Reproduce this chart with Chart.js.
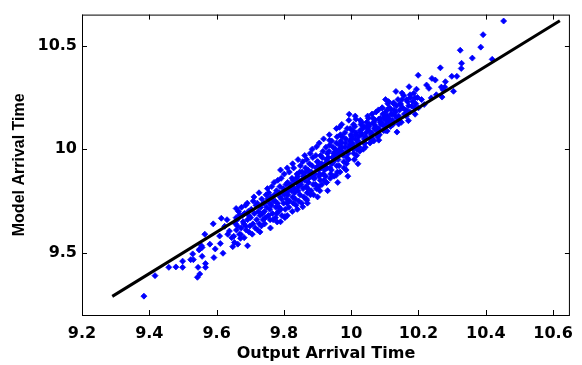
<!DOCTYPE html>
<html>
<head>
<meta charset="utf-8">
<script src="https://cdn.jsdelivr.net/npm/chart.js@4"></script>
<style>
  body { margin: 0; background: #fff; }
  canvas { display: block; }
</style>
</head>
<body>
<canvas id="chart" width="582" height="365"></canvas>
<script>
// tick labels
const xTicks = [9.2, 9.4, 9.6, 9.8, 10, 10.2, 10.4, 10.6];
const yTicks = [9.5, 10, 10.5];

// reference line y = x
const lineX = [9.29, 10.62];
const lineY = [9.29, 10.62];

// output arrival time (x) of each sample
const outputTime = [
  9.384, 9.417, 9.458, 9.479, 9.499, 9.499, 9.523, 9.531, 9.529, 9.543, 9.550, 9.545, 9.557, 9.567, 9.565, 9.590, 9.592, 9.550, 9.555, 9.580, 9.611, 9.614, 9.624, 9.648, 9.633,
  9.567, 9.557, 9.596, 9.609, 9.619, 9.631, 9.638, 9.645, 9.663, 9.672, 9.658, 9.668, 9.687, 9.682, 9.548,
  9.651, 9.656, 9.659, 9.653, 9.658,
  9.662, 9.668, 9.665, 9.661,
  9.673, 9.676, 9.671, 9.679, 9.674,
  9.683, 9.688, 9.681, 9.686,
  9.692, 9.697, 9.694, 9.699, 9.691, 9.696,
  9.703, 9.708, 9.701, 9.706, 9.709,
  9.712, 9.717, 9.715, 9.719, 9.711,
  9.724, 9.727, 9.721, 9.729, 9.722, 9.726,
  9.731, 9.738, 9.734, 9.736, 9.733, 9.739,
  9.742, 9.747, 9.745, 9.741, 9.749, 9.743,
  9.752, 9.758, 9.754, 9.751, 9.757, 9.759, 9.755,
  9.763, 9.766, 9.761, 9.769, 9.764, 9.768,
  9.772, 9.776, 9.774, 9.779, 9.771, 9.778, 9.775,
  9.781, 9.787, 9.784, 9.789, 9.782, 9.786, 9.788,
  9.793, 9.798, 9.791, 9.796, 9.794, 9.799, 9.792,
  9.802, 9.806, 9.809, 9.804, 9.801, 9.807, 9.803, 9.808,
  9.813, 9.817, 9.811, 9.815, 9.819, 9.812, 9.816,
  9.821, 9.826, 9.824, 9.828, 9.822, 9.829, 9.825, 9.827,
  9.832, 9.837, 9.834, 9.839, 9.831, 9.836, 9.838,
  9.843, 9.848, 9.841, 9.846, 9.844, 9.849, 9.842, 9.847,
  9.852, 9.857, 9.854, 9.859, 9.851, 9.856, 9.853, 9.858,
  9.861, 9.866, 9.864, 9.869, 9.862, 9.867, 9.865, 9.868,
  9.873, 9.878, 9.871, 9.876, 9.874, 9.879, 9.872,
  9.882, 9.887, 9.884, 9.889, 9.881, 9.886, 9.883, 9.888,
  9.891, 9.896, 9.894, 9.899, 9.892, 9.897, 9.895,
  9.903, 9.908, 9.901, 9.906, 9.904, 9.909, 9.902, 9.907, 9.905,
  9.912, 9.917, 9.914, 9.919, 9.911, 9.916, 9.913,
  9.921, 9.926, 9.924, 9.929, 9.922, 9.927, 9.925, 9.928,
  9.932, 9.937, 9.934, 9.939, 9.931, 9.936, 9.938,
  9.943, 9.948, 9.941, 9.946, 9.944, 9.949, 9.942, 9.947,
  9.952, 9.957, 9.954, 9.959, 9.951, 9.956, 9.953, 9.958,
  9.961, 9.966, 9.964, 9.969, 9.962, 9.967, 9.965, 9.968,
  9.973, 9.978, 9.971, 9.976, 9.974, 9.979, 9.972,
  9.982, 9.987, 9.984, 9.989, 9.981, 9.986, 9.983, 9.988,
  9.991, 9.996, 9.994, 9.999, 9.992, 9.997, 9.995,
  10.003, 10.008, 10.001, 10.006, 10.004, 10.009, 10.002, 10.007, 10.005,
  10.012, 10.017, 10.014, 10.019, 10.011, 10.016, 10.013,
  10.021, 10.026, 10.024, 10.029, 10.022, 10.027, 10.025, 10.028,
  10.032, 10.037, 10.034, 10.039, 10.031, 10.036, 10.038,
  10.043, 10.048, 10.041, 10.046, 10.044, 10.049, 10.042, 10.047,
  10.052, 10.057, 10.054, 10.059, 10.051, 10.056, 10.053,
  10.061, 10.066, 10.064, 10.069, 10.062, 10.067, 10.065, 10.068,
  10.073, 10.078, 10.071, 10.076, 10.074, 10.079,
  10.082, 10.087, 10.084, 10.089, 10.081, 10.086,
  10.091, 10.096, 10.094, 10.099, 10.092, 10.097,
  10.103, 10.108, 10.101, 10.106, 10.104, 10.109, 10.102,
  10.112, 10.117, 10.114, 10.119, 10.111,
  10.123, 10.128, 10.121, 10.126, 10.124,
  10.132, 10.137, 10.134, 10.139,
  10.141, 10.146, 10.144, 10.149,
  10.153, 10.158, 10.151, 10.156,
  10.162, 10.167, 10.164,
  10.171, 10.176, 10.174,
  10.183, 10.188, 10.186,
  10.192, 10.197, 10.194,
  9.862, 9.884, 9.905, 9.918, 9.935, 9.878, 9.956, 9.972, 9.993, 10.012, 9.842, 9.826, 9.810, 9.790,
  9.840, 9.870, 9.900, 9.930, 9.960, 9.990, 10.020, 9.760, 9.790, 9.810,
  9.856, 9.868, 9.729, 9.692, 9.780, 9.803, 9.985, 9.926, 9.955, 10.121, 9.994, 10.014, 9.965, 9.936, 9.897,
  10.453, 10.392, 10.385, 10.324, 10.360, 10.419, 10.328, 10.327, 10.265, 10.299, 10.314, 10.250, 10.280, 10.278, 10.268, 10.304, 10.273, 10.270, 10.199, 10.240, 10.224, 10.231, 10.172, 10.253, 10.238, 10.209, 10.217,
  10.133, 10.151, 10.175, 10.190, 10.165, 10.102, 10.126, 10.146, 10.180, 10.200, 10.117, 10.092, 10.165, 10.190, 10.131, 10.102, 10.082, 10.112, 10.141, 10.170, 10.136, 10.107, 10.082, 10.082
];

// model arrival time (y), same order
const modelTime = [
  9.291, 9.390, 9.430, 9.432, 9.430, 9.460, 9.467, 9.467, 9.495, 9.382, 9.398, 9.430, 9.483, 9.430, 9.590, 9.640, 9.477, 9.519, 9.534, 9.542, 9.545, 9.667, 9.628, 9.530, 9.590,
  9.448, 9.526, 9.519, 9.581, 9.498, 9.660, 9.605, 9.573, 9.542, 9.589, 9.714, 9.683, 9.628, 9.573, 9.514,
  9.58, 9.64, 9.61, 9.55, 9.67,
  9.63, 9.59, 9.70, 9.66,
  9.62, 9.68, 9.57, 9.65, 9.72,
  9.69, 9.61, 9.64, 9.73,
  9.66, 9.60, 9.70, 9.63, 9.74, 9.68,
  9.71, 9.64, 9.67, 9.59, 9.75,
  9.69, 9.73, 9.62, 9.66, 9.77,
  9.70, 9.64, 9.74, 9.68, 9.61, 9.79,
  9.72, 9.66, 9.76, 9.69, 9.63, 9.74,
  9.70, 9.78, 9.67, 9.74, 9.72, 9.64,
  9.76, 9.71, 9.68, 9.81, 9.74, 9.66, 9.79,
  9.73, 9.69, 9.77, 9.75, 9.82, 9.66,
  9.78, 9.72, 9.75, 9.69, 9.84, 9.80, 9.67,
  9.74, 9.79, 9.70, 9.77, 9.85, 9.72, 9.82,
  9.76, 9.81, 9.71, 9.79, 9.68, 9.74, 9.86,
  9.78, 9.83, 9.74, 9.71, 9.88, 9.80, 9.67, 9.76,
  9.80, 9.75, 9.84, 9.72, 9.82, 9.78, 9.89,
  9.83, 9.77, 9.86, 9.74, 9.80, 9.91, 9.70, 9.85,
  9.79, 9.84, 9.76, 9.88, 9.81, 9.73, 9.86,
  9.82, 9.78, 9.87, 9.84, 9.75, 9.92, 9.80, 9.89,
  9.85, 9.81, 9.89, 9.77, 9.83, 9.94, 9.74, 9.87,
  9.87, 9.82, 9.91, 9.79, 9.85, 9.76, 9.89, 9.95,
  9.84, 9.88, 9.81, 9.93, 9.86, 9.78, 9.90,
  9.89, 9.83, 9.92, 9.86, 9.80, 9.96, 9.87, 9.78,
  9.86, 9.91, 9.83, 9.94, 9.88, 9.81, 9.97,
  9.90, 9.85, 9.94, 9.88, 9.82, 9.97, 9.92, 9.80, 9.87,
  9.93, 9.88, 9.96, 9.85, 9.91, 9.99, 9.83,
  9.90, 9.95, 9.87, 9.98, 9.93, 9.84, 10.01, 9.91,
  9.96, 9.91, 9.99, 9.88, 9.94, 10.02, 9.86,
  9.93, 9.98, 9.90, 10.01, 9.96, 9.87, 10.04, 9.94,
  9.97, 9.92, 10.00, 9.89, 9.95, 10.03, 9.99, 10.06,
  9.95, 10.00, 9.92, 10.04, 9.98, 9.89, 10.02, 10.07,
  9.99, 9.94, 10.03, 9.97, 10.06, 9.91, 10.01,
  10.01, 9.96, 10.05, 9.99, 10.08, 9.93, 10.03, 10.10,
  9.98, 10.04, 10.01, 10.07, 9.95, 10.10, 10.02,
  10.03, 9.98, 10.06, 10.00, 10.09, 9.95, 10.05, 10.12, 10.02,
  10.05, 10.00, 10.08, 10.03, 10.11, 9.97, 10.07,
  10.04, 10.09, 10.01, 10.12, 10.06, 10.14, 9.99, 10.08,
  10.07, 10.03, 10.10, 10.05, 10.13, 10.00, 10.11,
  10.06, 10.10, 10.03, 10.13, 10.08, 10.16, 10.01, 10.11,
  10.09, 10.05, 10.12, 10.07, 10.15, 10.03, 10.11,
  10.08, 10.13, 10.05, 10.10, 10.17, 10.04, 10.15, 10.12,
  10.11, 10.07, 10.14, 10.09, 10.18, 10.06,
  10.10, 10.15, 10.07, 10.12, 10.19, 10.13,
  10.13, 10.09, 10.17, 10.11, 10.20, 10.15,
  10.12, 10.16, 10.09, 10.19, 10.14, 10.22, 10.18,
  10.15, 10.11, 10.20, 10.17, 10.23,
  10.14, 10.19, 10.17, 10.22, 10.12,
  10.18, 10.15, 10.21, 10.24,
  10.16, 10.22, 10.19, 10.13,
  10.20, 10.17, 10.24, 10.26,
  10.19, 10.23, 10.16,
  10.21, 10.25, 10.18,
  10.23, 10.20, 10.27,
  10.22, 10.25, 10.29,
  9.97, 10.00, 10.03, 10.05, 10.07, 9.98, 10.10, 10.12, 10.14, 10.16, 9.95, 9.93, 9.91, 9.90,
  9.71, 9.74, 9.77, 9.80, 9.84, 9.87, 9.93, 9.62, 9.65, 9.68,
  9.722, 9.754, 9.601, 9.534, 9.649, 9.676, 9.900, 9.840, 9.874, 10.122, 10.169, 10.145, 10.106, 10.043, 10.012,
  10.619, 10.553, 10.493, 10.478, 10.440, 10.434, 10.415, 10.390, 10.393, 10.352, 10.352, 10.334, 10.326, 10.300, 10.300, 10.280, 10.287, 10.252, 10.357, 10.342, 10.310, 10.294, 10.302, 10.263, 10.248, 10.240, 10.216,
  10.279, 10.271, 10.263, 10.248, 10.240, 10.240, 10.224, 10.216, 10.208, 10.200, 10.193, 10.200, 10.185, 10.169, 10.161, 10.161, 10.146, 10.130, 10.122, 10.138, 10.083, 10.088, 10.090, 10.044
];

if (outputTime.length !== modelTime.length) {
  console.error('length mismatch', outputTime.length, modelTime.length);
}

const points = outputTime.map((x, i) => ({ x: x, y: modelTime[i] }));
const fitLine = lineX.map((x, i) => ({ x: x, y: lineY[i] }));

// box around the plot with inward ticks, matlab style
const frame = {
  id: 'frame',
  afterDraw(chart) {
    const { ctx, chartArea: a, scales: { x, y } } = chart;
    const len = 5;
    ctx.save();
    ctx.strokeStyle = '#000';
    ctx.lineWidth = 1;
    ctx.strokeRect(a.left + 0.5, a.top + 0.5, a.right - a.left - 1, a.bottom - a.top);
    ctx.beginPath();
    xTicks.forEach(v => {
      const px = Math.round(x.getPixelForValue(v)) + 0.5;
      ctx.moveTo(px, a.bottom); ctx.lineTo(px, a.bottom - len);
      ctx.moveTo(px, a.top); ctx.lineTo(px, a.top + len);
    });
    yTicks.forEach(v => {
      const py = Math.round(y.getPixelForValue(v)) + 0.5;
      ctx.moveTo(a.left, py); ctx.lineTo(a.left + len, py);
      ctx.moveTo(a.right, py); ctx.lineTo(a.right - len, py);
    });
    ctx.stroke();
    ctx.restore();
  }
};

new Chart(document.getElementById('chart'), {
  type: 'scatter',
  data: {
    datasets: [
      {
        type: 'line',
        data: fitLine,
        borderColor: '#000',
        borderWidth: 3,
        pointRadius: 0,
        fill: false
      },
      {
        data: points,
        pointStyle: 'rectRot',
        pointRadius: 3,
        borderWidth: 0.8,
        backgroundColor: '#0000ff',
        borderColor: '#0000ff'
      }
    ]
  },
  options: {
    responsive: false,
    animation: false,
    layout: { padding: { top: 9, right: 4, left: 0, bottom: 0 } },
    plugins: { legend: { display: false }, tooltip: { enabled: false } },
    scales: {
      x: {
        type: 'linear',
        min: 9.2,
        max: 10.65,
        grid: { display: false, drawTicks: false },
        border: { display: false },
        afterBuildTicks: s => { s.ticks = xTicks.map(v => ({ value: v })); },
        afterFit: s => { s.height = 50; },
        ticks: {
          autoSkip: false,
          maxRotation: 0,
          padding: 9,
          color: '#000',
          font: { family: 'DejaVu Sans', size: 16, weight: 'bold' },
          callback: v => String(v)
        },
        title: {
          display: true,
          text: 'Output Arrival Time',
          color: '#000',
          font: { family: 'DejaVu Sans', size: 16, weight: 'bold', lineHeight: 1 },
          padding: { top: 0, bottom: 3 }
        }
      },
      y: {
        type: 'linear',
        min: 9.2,
        max: 10.65,
        grid: { display: false, drawTicks: false },
        border: { display: false },
        afterBuildTicks: s => { s.ticks = yTicks.map(v => ({ value: v })); },
        afterFit: s => { s.width = 82; },
        ticks: {
          autoSkip: false,
          padding: 5,
          color: '#000',
          font: { family: 'DejaVu Sans', size: 16, weight: 'bold' },
          callback: v => String(v)
        },
        title: {
          display: true,
          text: 'Model Arrival Time',
          color: '#000',
          font: { family: 'Liberation Sans', size: 16, weight: 'bold' },
          padding: { top: 10, bottom: 0 }
        }
      }
    }
  },
  plugins: [frame]
});
</script>
</body>
</html>
